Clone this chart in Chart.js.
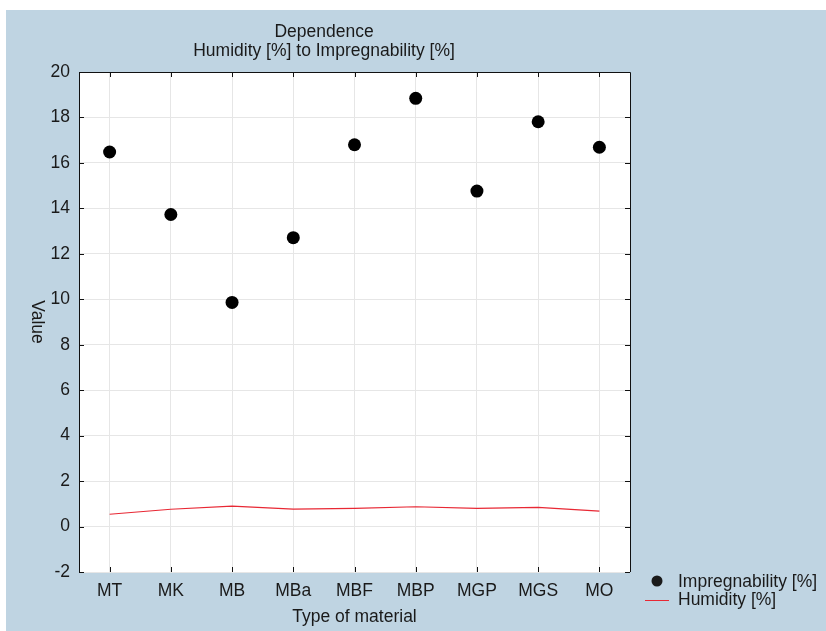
<!DOCTYPE html>
<html>
<head>
<meta charset="utf-8">
<script src="https://cdn.jsdelivr.net/npm/chart.js@4/dist/chart.umd.min.js"></script>
<style>
  body { margin: 0; background: #fff; }
  #wrap { width: 826px; height: 631px; }
</style>
</head>
<body>
<div id="wrap"><canvas id="myChart" width="826" height="631"></canvas></div>
<script>
const materials = ['MT', 'MK', 'MB', 'MBa', 'MBF', 'MBP', 'MGP', 'MGS', 'MO'];
const impregnability = [16.48, 13.73, 9.86, 12.71, 16.80, 18.84, 14.76, 17.81, 16.69];
const humidity = [0.54, 0.76, 0.90, 0.77, 0.80, 0.87, 0.80, 0.84, 0.68];
const yTicks = [-2, 0, 2, 4, 6, 8, 10, 12, 14, 16, 18, 20];

const blue = 'rgb(191,212,226)';
const red = 'rgb(232,40,52)';
const font = 'Arial, "Liberation Sans", sans-serif';
const fsize = 17.5;

// background, borders, inner ticks, titles and legend
const decor = {
    id: 'decor',
    beforeDraw(chart) {
        const c = chart.ctx, a = chart.chartArea;
        c.save();
        c.fillStyle = '#fff';
        c.fillRect(0, 0, chart.width, chart.height);
        c.fillStyle = blue;
        c.fillRect(6, 10, chart.width - 6, chart.height - 10);
        c.fillStyle = '#fff';
        c.fillRect(a.left, a.top, a.right - a.left, a.bottom - a.top + 1);
        c.restore();
    },
    afterDatasetsDraw(chart) {
        const c = chart.ctx, a = chart.chartArea;
        const xs = chart.scales.x, ys = chart.scales.y;
        c.save();
        c.strokeStyle = '#111';
        c.lineWidth = 1;
        c.beginPath();
        c.moveTo(a.left + 0.5, a.bottom);
        c.lineTo(a.left + 0.5, a.top + 0.5);
        c.lineTo(a.right + 0.5, a.top + 0.5);
        c.lineTo(a.right + 0.5, a.bottom);
        // inward tick marks
        yTicks.forEach(v => {
            const y = Math.round(ys.getPixelForValue(v)) + 0.5;
            c.moveTo(a.left, y); c.lineTo(a.left + 5, y);
            c.moveTo(a.right, y); c.lineTo(a.right - 5, y);
        });
        materials.forEach((m, i) => {
            const x = Math.round(xs.getPixelForValue(i)) + 0.5;
            c.moveTo(x, a.top); c.lineTo(x, a.top + 5);
            c.moveTo(x, a.bottom); c.lineTo(x, a.bottom - 5);
        });
        c.stroke();

        c.fillStyle = '#1a1a1a';
        c.font = fsize + 'px ' + font;
        c.textAlign = 'center';
        c.textBaseline = 'middle';
        c.fillText('Dependence', 324, 32);
        c.fillText('Humidity [%] to Impregnability [%]', 324, 51);
        c.fillText('Type of material', (a.left + a.right) / 2, 617);

        c.save();
        c.translate(37, (a.top + a.bottom) / 2);
        c.rotate(Math.PI / 2);
        c.fillText('Value', 0, 0);
        c.restore();

        // legend
        c.textAlign = 'left';
        c.beginPath();
        c.arc(657, 581, 5.5, 0, Math.PI * 2);
        c.fill();
        c.fillText('Impregnability [%]', 678, 582);
        c.strokeStyle = red;
        c.beginPath();
        c.moveTo(645, 600.5); c.lineTo(669, 600.5);
        c.stroke();
        c.fillText('Humidity [%]', 678, 600);
        c.restore();
    }
};

const ctx = document.getElementById('myChart').getContext('2d');

var graphData = {
    type: 'line',
    data: {
        labels: materials,
        datasets: [{
            label: 'Impregnability [%]',
            data: impregnability,
            showLine: false,
            pointRadius: 6.5,
            pointBackgroundColor: '#000',
            pointBorderColor: '#000',
            pointBorderWidth: 0,
            order: 0
        }, {
            label: 'Humidity [%]',
            data: humidity,
            borderColor: red,
            borderWidth: 1.2,
            pointRadius: 0,
            tension: 0,
            order: 1
        }]
    },
    options: {
        responsive: false,
        animation: false,
        layout: { padding: { left: 0, top: 72, right: 196, bottom: 0 } },
        plugins: {
            legend: { display: false },
            title: { display: false },
            tooltip: { enabled: false }
        },
        scales: {
            x: {
                offset: true,
                grid: { color: '#e6e6e6', drawTicks: false, offset: false },
                border: { display: false },
                ticks: { color: '#1a1a1a', font: { size: fsize, family: font }, padding: 9 },
                afterFit: s => { s.height = 59; }
            },
            y: {
                min: -2,
                max: 20,
                afterBuildTicks: s => { s.ticks = yTicks.map(v => ({ value: v })); },
                grid: { color: '#e6e6e6', drawTicks: false },
                border: { display: false },
                ticks: { color: '#1a1a1a', font: { size: fsize, family: font }, padding: 9 },
                afterFit: s => { s.width = 79; }
            }
        }
    },
    plugins: [decor]
};

const myChart = new Chart(ctx, graphData);
</script>
</body>
</html>
